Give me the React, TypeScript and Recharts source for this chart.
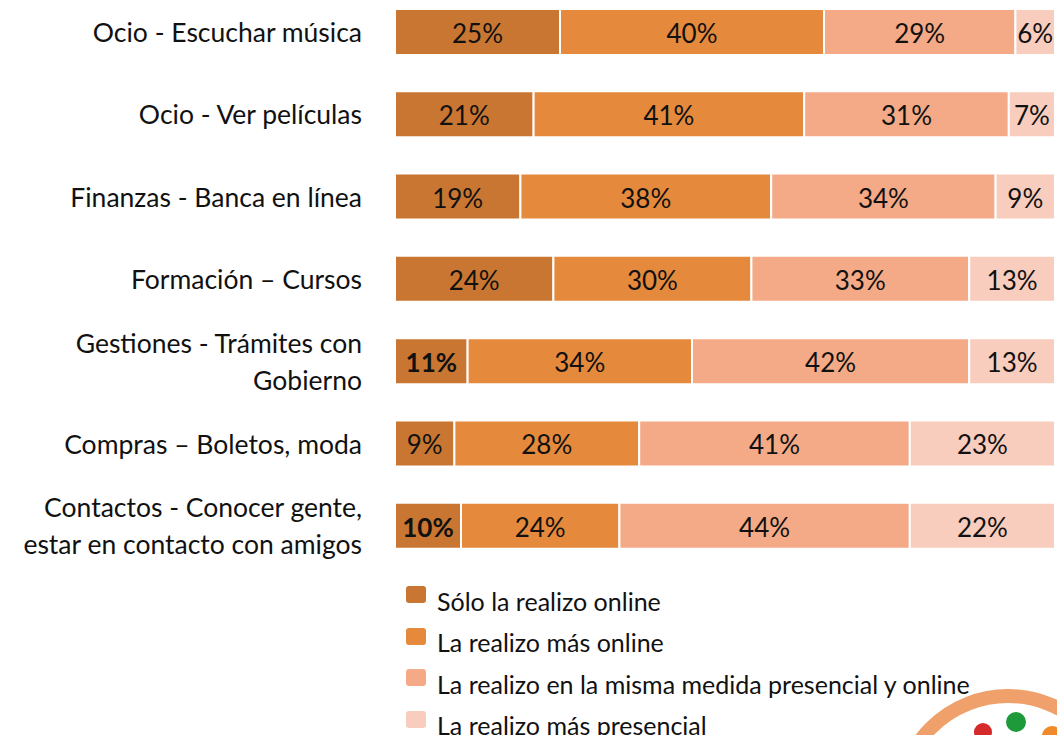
import React from "react";
import { BarChart, Bar, XAxis, YAxis, LabelList } from "recharts";

const categories = [
  "Ocio - Escuchar música",
  "Ocio - Ver películas",
  "Finanzas - Banca en línea",
  "Formación – Cursos",
  "Gestiones - Trámites con\nGobierno",
  "Compras – Boletos, moda",
  "Contactos - Conocer gente,\nestar en contacto con amigos",
];
const soloOnline = [25, 21, 19, 24, 11, 9, 10];
const masOnline = [40, 41, 38, 30, 34, 28, 24];
const mismaMedida = [29, 31, 34, 33, 42, 41, 44];
const masPresencial = [6, 7, 9, 13, 13, 23, 22];
const boldFirstLabel = [false, false, false, false, true, false, true];

const seriesKeys = ["solo", "masOnline", "misma", "presencial"];
const seriesNames = [
  "Sólo la realizo online",
  "La realizo más online",
  "La realizo en la misma medida presencial y online",
  "La realizo más presencial",
];
const seriesColors = ["#C87632", "#E5893C", "#F4AA86", "#F8CDBD"];

const data = categories.map((c, i) => ({
  name: c,
  solo: soloOnline[i],
  masOnline: masOnline[i],
  misma: mismaMedida[i],
  presencial: masPresencial[i],
  bold: boldFirstLabel[i],
}));

const FONT = "Lato, 'Open Sans', sans-serif";

const YTick = (props: any) => {
  const { x, y, payload } = props;
  const lines = String(payload.value).split("\n");
  const lh = 37;
  const start = y - ((lines.length - 1) * lh) / 2;
  return (
    <text x={x} y={start} textAnchor="end" fontFamily={FONT} fontSize={26.5} fill="#111">
      {lines.map((l, i) => (
        <tspan key={i} x={x} y={start + i * lh} dominantBaseline="central">
          {l}
        </tspan>
      ))}
    </text>
  );
};

const makeLabel = (seriesIdx: number) => (props: any) => {
  const { x, y, width, height, value, index } = props;
  const bold = seriesIdx === 0 && data[index]?.bold;
  return (
    <text
      x={x + width / 2}
      y={y + height / 2 + 1}
      textAnchor="middle"
      dominantBaseline="central"
      fontFamily={FONT}
      fontSize={26}
      fontWeight={bold ? 700 : 400}
      fill="#111"
    >
      {value}%
    </text>
  );
};

const LegendBox = () => (
  <div
    style={{
      position: "absolute",
      left: 406,
      top: 580,
      fontFamily: FONT,
      fontSize: 25,
      color: "#111",
      whiteSpace: "nowrap",
    }}
  >
    {seriesNames.map((n, i) => (
      <div key={i} style={{ display: "flex", alignItems: "center", height: 41.5 }}>
        <span
          style={{
            display: "inline-block",
            width: 20,
            height: 17,
            borderRadius: 3,
            background: seriesColors[i],
            marginRight: 11,
            marginTop: -12,
          }}
        />
        <span>{n}</span>
      </div>
    ))}
  </div>
);

export default function App() {
  return (
    <div style={{ position: "absolute", left: 0, top: 0, width: 1057, height: 735, background: "#fff", overflow: "hidden" }}>
      <BarChart
        width={1057}
        height={735}
        data={data}
        layout="vertical"
        margin={{ top: -9, right: 2, bottom: 168, left: 0 }}
        barSize={46}
      >
        <XAxis type="number" domain={[0, 100]} hide allowDataOverflow />
        <YAxis
          type="category"
          dataKey="name"
          width={395}
          axisLine={false}
          tickLine={false}
          tickSize={0}
          tickMargin={33}
          tick={<YTick />}
          interval={0}
        />
        {seriesKeys.map((k, i) => (
          <Bar
            key={k}
            dataKey={k}
            name={seriesNames[i]}
            stackId="a"
            fill={seriesColors[i]}
            stroke="#fff"
            strokeWidth={2}
            isAnimationActive={false}
          >
            <LabelList dataKey={k} content={makeLabel(i)} />
          </Bar>
        ))}
      </BarChart>
      <LegendBox />
      <svg width={1057} height={735} style={{ position: "absolute", left: 0, top: 0, pointerEvents: "none" }}>
        <circle cx={1008} cy={805} r={109} fill="none" stroke="#F0A06A" strokeWidth={14} />
        <circle cx={983} cy={732} r={9} fill="#D62A2A" />
        <circle cx={1016} cy={722} r={10} fill="#1E9A3A" />
        <circle cx={1052} cy={736} r={10} fill="#F08A2A" />
      </svg>
    </div>
  );
}
